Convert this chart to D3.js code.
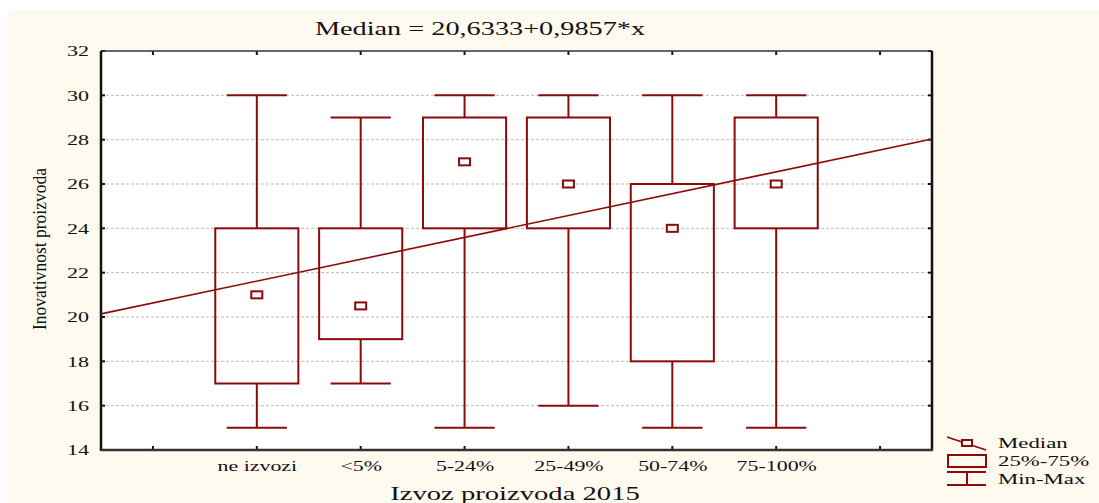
<!DOCTYPE html>
<html>
<head>
<meta charset="utf-8">
<script src="https://cdn.jsdelivr.net/npm/d3@7"></script>
<style>
  body { margin: 0; background: #fff; }
  text { font-family: "Liberation Serif", "Times New Roman", serif; fill: #111; }
</style>
</head>
<body>
<div id="chart"></div>
<script>
// Data
var categories = ["ne izvozi", "<5%", "5-24%", "25-49%", "50-74%", "75-100%"];
var mins    = [15, 17, 15, 16, 15, 15];
var q1s     = [17, 19, 24, 24, 18, 24];
var medians = [21, 20.5, 27, 26, 24, 26];
var q3s     = [24, 24, 29, 29, 26, 29];
var maxs    = [30, 29, 30, 30, 30, 30];
var yTicks = [14, 16, 18, 20, 22, 24, 26, 28, 30, 32];
var fitA = 20.6333, fitB = 0.9857;

var width = 1099, height = 503;
var red = "#8b0a0a";

// the reference uses a wide serif, so stretch glyphs horizontally
function stretch(sel, k) {
    sel.each(function() {
        var w = this.getComputedTextLength();
        d3.select(this)
            .attr("textLength", w * k)
            .attr("lengthAdjust", "spacingAndGlyphs");
    });
}

var svg = d3.select("#chart").append("svg")
    .attr("width", width)
    .attr("height", height);

// cream panel
svg.append("rect")
    .attr("x", 7).attr("y", 10)
    .attr("width", width - 7).attr("height", height - 10)
    .style("fill", "#fffaf0");

var pLeft = 101, pRight = 932, pTop = 51, pBottom = 450;

// Scales: categories sit at 1..6, axis spans -0.5..7.5
var xScale = d3.scaleLinear().domain([-0.5, 7.5]).range([pLeft, pRight]);
var yScale = d3.scaleLinear().domain([14, 32]).range([pBottom, pTop]);
var step = xScale(1) - xScale(0);

svg.append("rect")
    .attr("x", pLeft).attr("y", pTop)
    .attr("width", pRight - pLeft).attr("height", pBottom - pTop)
    .style("fill", "#fff");

// grid lines
svg.append("g").selectAll("line")
    .data(yTicks.slice(1, -1))
    .enter().append("line")
    .attr("x1", pLeft).attr("x2", pRight)
    .attr("y1", d => yScale(d)).attr("y2", d => yScale(d))
    .style("stroke", "#bbb")
    .style("stroke-dasharray", "3,2")
    .style("stroke-width", 1);

// Axes
var xTickVals = d3.range(0, 8);
var yAxis = d3.axisLeft(yScale).tickValues(yTicks).tickSize(0).tickPadding(12);
var yAxisG = svg.append("g")
    .attr("transform", "translate(" + pLeft + ",0)")
    .call(yAxis);
yAxisG.select(".domain").remove();
yAxisG.selectAll("text")
    .style("font-family", "Liberation Serif")
    .style("font-size", "15px")
    .style("fill", "#111")
    .call(stretch, 1.47);

var xAxis = d3.axisBottom(xScale).tickValues(d3.range(1, 7))
    .tickFormat(i => categories[i - 1]).tickSize(0).tickPadding(10);
var xAxisG = svg.append("g")
    .attr("transform", "translate(0," + pBottom + ")")
    .call(xAxis);
xAxisG.select(".domain").remove();
xAxisG.selectAll("text")
    .style("font-family", "Liberation Serif")
    .style("font-size", "15px")
    .style("fill", "#111")
    .call(stretch, 1.46);

// inner ticks
var tickG = svg.append("g").style("stroke", "#111").style("stroke-width", 2);
xTickVals.forEach(function(v) {
    tickG.append("line").attr("x1", xScale(v)).attr("x2", xScale(v))
        .attr("y1", pTop).attr("y2", pTop + 4);
    tickG.append("line").attr("x1", xScale(v)).attr("x2", xScale(v))
        .attr("y1", pBottom).attr("y2", pBottom - 4);
});
yTicks.forEach(function(v) {
    tickG.append("line").attr("x1", pRight).attr("x2", pRight - 4)
        .attr("y1", yScale(v)).attr("y2", yScale(v));
    tickG.append("line").attr("x1", pLeft).attr("x2", pLeft + 4)
        .attr("y1", yScale(v)).attr("y2", yScale(v));
});

// frame
svg.append("line").attr("x1", pLeft).attr("x2", pRight).attr("y1", pTop).attr("y2", pTop)
    .style("stroke", "#333").style("stroke-width", 1.5);
svg.append("line").attr("x1", pRight).attr("x2", pRight).attr("y1", pTop).attr("y2", pBottom)
    .style("stroke", "#111").style("stroke-width", 2.5);
svg.append("line").attr("x1", pLeft).attr("x2", pLeft).attr("y1", pTop).attr("y2", pBottom + 1)
    .style("stroke", "#111").style("stroke-width", 2.5);
svg.append("line").attr("x1", pLeft).attr("x2", pRight + 1).attr("y1", pBottom).attr("y2", pBottom)
    .style("stroke", "#333").style("stroke-width", 2.5);

// Boxes
var boxW = step * 0.8, capW = step * 0.58;
var boxG = svg.append("g")
    .style("stroke", red).style("stroke-width", 2).style("fill", "none");

categories.forEach(function(c, i) {
    var cx = xScale(i + 1);
    boxG.append("line").attr("x1", cx).attr("x2", cx)
        .attr("y1", yScale(maxs[i])).attr("y2", yScale(q3s[i]));
    boxG.append("line").attr("x1", cx).attr("x2", cx)
        .attr("y1", yScale(q1s[i])).attr("y2", yScale(mins[i]));
    boxG.append("line").attr("x1", cx - capW / 2).attr("x2", cx + capW / 2)
        .attr("y1", yScale(maxs[i])).attr("y2", yScale(maxs[i]));
    boxG.append("line").attr("x1", cx - capW / 2).attr("x2", cx + capW / 2)
        .attr("y1", yScale(mins[i])).attr("y2", yScale(mins[i]));
    boxG.append("rect")
        .attr("x", cx - boxW / 2).attr("y", yScale(q3s[i]))
        .attr("width", boxW).attr("height", yScale(q1s[i]) - yScale(q3s[i]));
});

// regression line
svg.append("path")
    .attr("d", d3.line()
        .x(d => xScale(d))
        .y(d => yScale(fitA + fitB * d))([-0.5, 7.5]))
    .style("stroke", red).style("stroke-width", 1.6).style("fill", "none");

// median markers
svg.append("g").selectAll("rect")
    .data(medians)
    .enter().append("rect")
    .attr("x", (d, i) => xScale(i + 1) - 5.5)
    .attr("y", d => yScale(d) - 3.5)
    .attr("width", 11).attr("height", 7)
    .style("fill", "#fff").style("stroke", red).style("stroke-width", 2);

// Titles
svg.append("text")
    .attr("x", 480).attr("y", 35)
    .attr("text-anchor", "middle")
    .style("font-size", "18px")
    .text("Median = 20,6333+0,9857*x")
    .call(stretch, 1.57);

svg.append("text")
    .attr("x", 515).attr("y", 500)
    .attr("text-anchor", "middle")
    .style("font-size", "18px")
    .text("Izvoz proizvoda 2015")
    .call(stretch, 1.59);

svg.append("text")
    .attr("transform", "translate(46,249) rotate(-90)")
    .attr("text-anchor", "middle")
    .attr("textLength", 162)
    .attr("lengthAdjust", "spacingAndGlyphs")
    .style("font-size", "18px")
    .text("Inovativnost proizvoda");

// Legend
var lg = svg.append("g").attr("transform", "translate(947,0)");
lg.append("line").attr("x1", 0).attr("y1", 437).attr("x2", 39).attr("y2", 450)
    .style("stroke", red).style("stroke-width", 1.6);
lg.append("rect").attr("x", 15).attr("y", 440).attr("width", 10).attr("height", 6)
    .style("fill", "#fff").style("stroke", red).style("stroke-width", 2);
lg.append("rect").attr("x", 1).attr("y", 455).attr("width", 38).attr("height", 12)
    .style("fill", "none").style("stroke", red).style("stroke-width", 2);
lg.append("line").attr("x1", 0).attr("y1", 472).attr("x2", 39).attr("y2", 472)
    .style("stroke", red).style("stroke-width", 2);
lg.append("line").attr("x1", 20).attr("y1", 472).attr("x2", 20).attr("y2", 485)
    .style("stroke", red).style("stroke-width", 2);
lg.append("line").attr("x1", 0).attr("y1", 485).attr("x2", 39).attr("y2", 485)
    .style("stroke", red).style("stroke-width", 2);

var legendLabels = ["Median", "25%-75%", "Min-Max"];
lg.selectAll(".lbl").data(legendLabels).enter().append("text")
    .attr("class", "lbl")
    .attr("x", 51).attr("y", (d, i) => 448 + i * 18)
    .style("font-size", "15px")
    .text(d => d)
    .call(stretch, 1.52);
</script>
</body>
</html>
